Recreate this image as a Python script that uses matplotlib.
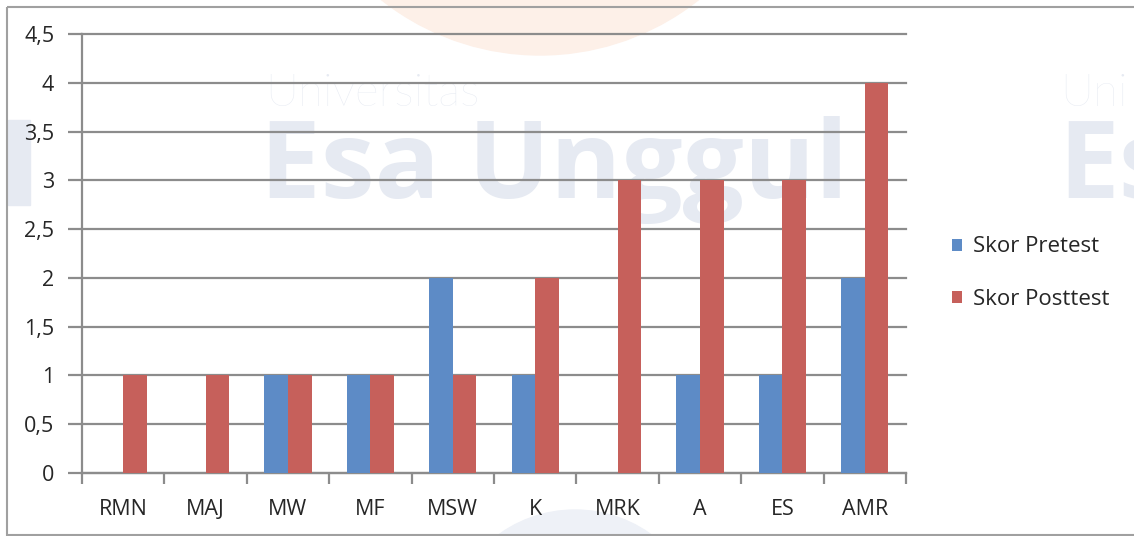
import numpy as np
import matplotlib.pyplot as plt
from matplotlib.ticker import FuncFormatter
from matplotlib.patches import Rectangle, Wedge

categories = ["RMN", "MAJ", "MW", "MF", "MSW", "K", "MRK", "A", "ES", "AMR"]
pretest = [0, 0, 1, 1, 2, 1, 0, 1, 1, 2]
posttest = [1, 1, 1, 1, 1, 2, 3, 3, 3, 4]
labels = ["Skor Pretest", "Skor Posttest"]

blue = "#5D8BC6"
red = "#C6605B"
grid_col = "#8C8C8C"
wm_col = "#E6EAF2"

plt.rcParams['font.family'] = ['Open Sans', 'DejaVu Sans']

fig = plt.figure(figsize=(11.34, 5.36), dpi=100)
W, H = 1134, 536

# faint watermark in the background
wm = fig.add_axes([0, 0, 1, 1], zorder=-5)
wm.set_xlim(0, W)
wm.set_ylim(H, 0)
wm.axis("off")
wm.add_patch(Wedge((540, -200), 255, 20, 160, width=60, color="#FDF0E8"))
wm.add_patch(Wedge((575, 640), 130, 230, 310, width=40, color="#EEF1F7"))
wm.text(265, 94, "Universitas", fontsize=33, color=wm_col, va="center",
        family="Lato", fontweight="light")
wm.text(260, 170, "Esa Unggul", fontsize=78, color=wm_col, va="center",
        fontweight="bold")
wm.text(1060, 94, "Uni", fontsize=33, color=wm_col, va="center",
        family="Lato", fontweight="light")
wm.text(1058, 170, "Es", fontsize=78, color=wm_col, va="center",
        fontweight="bold")
wm.add_patch(Rectangle((8, 120), 22, 85, color=wm_col))
wm.add_patch(Rectangle((7, 7), W + 20, 528, fill=False, edgecolor="#A0A0A0", lw=1.5))

ax = fig.add_axes([82 / W, 1 - 473 / H, (906 - 82) / W, (473 - 34) / H])
ax.patch.set_alpha(0)

x = np.arange(len(categories))
w = 0.286
ax.bar(x - w / 2, pretest, w, color=blue, label=labels[0], zorder=3)
ax.bar(x + w / 2, posttest, w, color=red, label=labels[1], zorder=3)

ax.set_xlim(-0.5, len(categories) - 0.5)
ax.set_ylim(0, 4.5)
ax.set_yticks(np.arange(0, 4.51, 0.5))
ax.yaxis.set_major_formatter(FuncFormatter(lambda v, p: ("%g" % v).replace(".", ",")))
ax.yaxis.grid(True, color=grid_col, lw=1.6, zorder=1)
for g in ax.yaxis.get_gridlines():
    g.set_clip_on(False)
ax.set_axisbelow(True)

ax.set_xticks(x)
ax.set_xticklabels(categories)
ax.set_xticks(np.arange(-0.5, len(categories)), minor=True)
ax.tick_params(axis="x", which="major", length=0, pad=19, labelsize=15.5, labelcolor="#262626")
ax.tick_params(axis="x", which="minor", length=8, width=1.6, color=grid_col)
ax.tick_params(axis="y", length=10, width=1.6, color=grid_col, pad=10,
               labelsize=15.5, labelcolor="#262626")

for s in ["top", "right"]:
    ax.spines[s].set_visible(False)
for s in ["left", "bottom"]:
    ax.spines[s].set_color(grid_col)
    ax.spines[s].set_linewidth(1.6)

fig.legend(loc="center left", bbox_to_anchor=(932 / W, 1 - 273 / H), frameon=False,
           fontsize=16, handlelength=0.45, handleheight=0.45, handletextpad=0.5,
           labelspacing=1.4, labelcolor="#262626")

fig.savefig("out.png", dpi=100)
